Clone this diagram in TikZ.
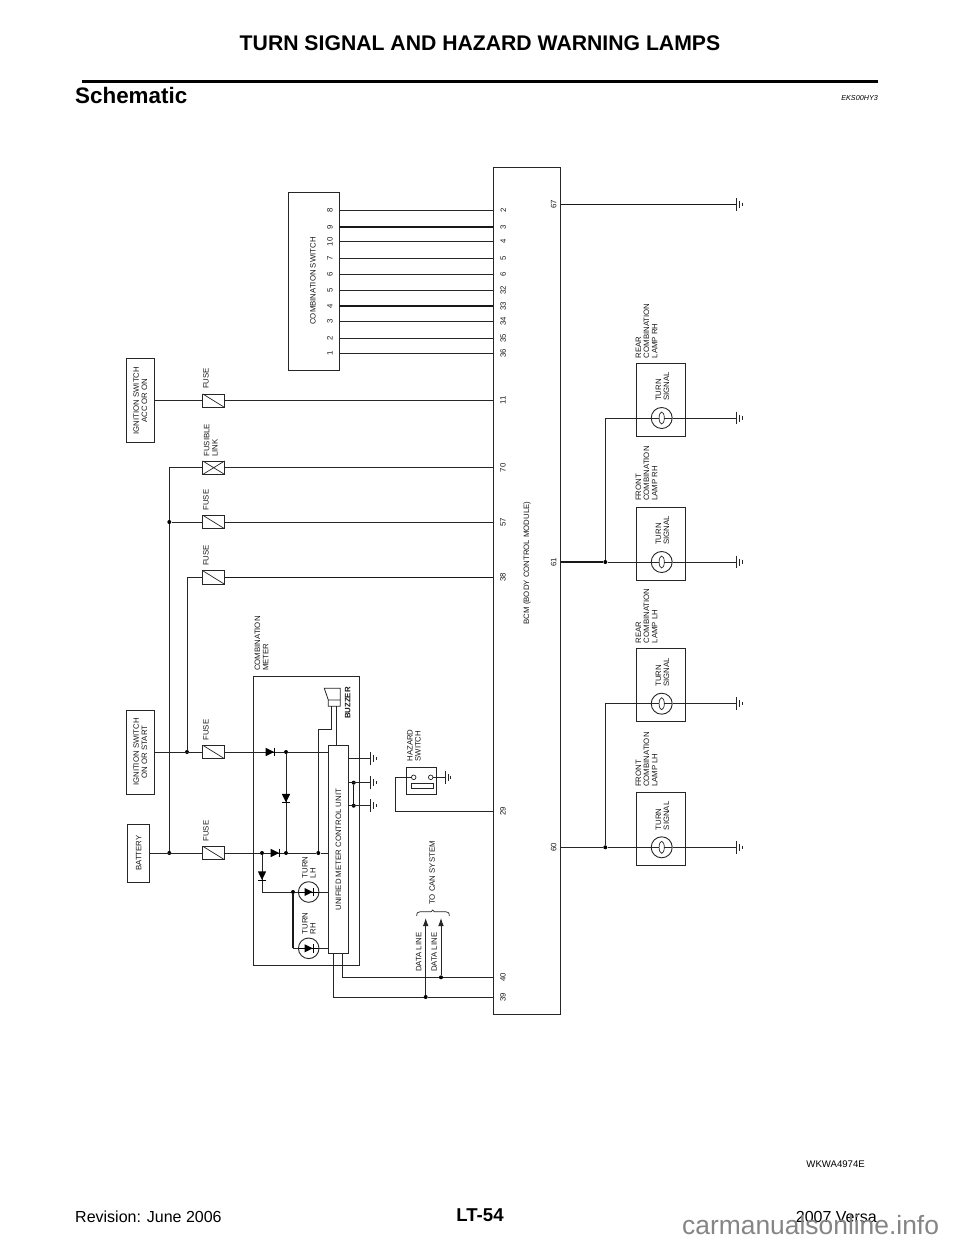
\documentclass[tikz,border=0pt]{standalone}
\usepackage{fontspec}
\setmainfont{Liberation Sans}
\usetikzlibrary{arrows.meta}
\newcommand{\lab}{\fontsize{7.8}{8.1}\selectfont}
\tikzset{
  wire/.style={line width=0.85pt,draw=black!85},
  hwire/.style={line width=1.05pt,draw=black!90},
  block/.style={draw=black!85,line width=0.9pt,inner sep=0pt,fill=none},
  juncdot/.style={circle,fill=black,inner sep=0pt,minimum size=4pt},
  fusebox/.style={draw=black!85,line width=0.8pt,inner sep=0pt,minimum width=22pt,minimum height=13.6pt,
     path picture={\draw[line width=0.7pt,black!85] (path picture bounding box.north west)--(path picture bounding box.south east);}},
  linkbox/.style={fusebox,
     path picture={\draw[line width=0.7pt,black!85] (path picture bounding box.north west)--(path picture bounding box.south east)
        (path picture bounding box.south west)--(path picture bounding box.north east);}},
  vtext/.style={rotate=90,font=\lab,align=left,inner sep=0pt,anchor=west,text=black!90},
  ctext/.style={rotate=90,font=\lab,align=center,inner sep=0pt,anchor=center,text=black!90},
  pinlabel/.style={rotate=90,font=\lab,inner sep=0pt,anchor=center,text=black!90},
  lampbulb/.style={circle,draw=black!85,line width=0.9pt,inner sep=0pt,minimum size=21pt,
     path picture={\draw[line width=0.7pt,black!85] (0,0) ellipse (2.6pt and 6pt);
        \draw[line width=0.7pt,black!85] (-10.5pt,0)--(-2.6pt,0) (2.6pt,0)--(10.5pt,0);}},
  ledbulb/.style={circle,draw=black!85,line width=0.9pt,inner sep=0pt,minimum size=20.6pt,
     path picture={\fill[black] (-4pt,-4pt)--(-4pt,4pt)--(4pt,0pt)--cycle;
        \draw[line width=0.8pt,black] (-10.5pt,0)--(10.5pt,0) (4.4pt,-4.3pt)--(4.4pt,4.3pt);}},
  contact/.style={circle,draw=black!85,line width=0.7pt,inner sep=0pt,minimum size=4.6pt},
  gnd/.pic={\draw[line width=0.8pt,black!85] (0,-6.3)--(0,6.3);
     \draw[line width=0.8pt,black!85] (3,-3.5)--(3,3.5);
     \draw[line width=0.8pt,black!85] (5.5,-1.6)--(5.5,1.6);},
  dio/.pic={\fill[black] (-4.4,-4.2)--(-4.4,4.2)--(4.2,0)--cycle;
     \draw[line width=0.8pt,black] (4.4,-4.3)--(4.4,4.3);},
}
\begin{document}
\begin{tikzpicture}[x=1pt,y=-1pt]
\useasboundingbox (0,0) rectangle (960,1242);
\fill[white] (0,0) rectangle (960,1242);

% page furniture
\node[font=\fontsize{21.2}{24}\selectfont\bfseries,inner sep=0pt] (title) at (480,43) {TURN SIGNAL AND HAZARD WARNING LAMPS};
\coordinate (ruleL) at (82,81.5);
\coordinate (ruleR) at (878,81.5);
\draw[line width=2.4pt] (ruleL)--(ruleR);
\node[font=\fontsize{22.4}{24}\selectfont\bfseries,inner sep=0pt,anchor=base west] (sch) at (75,103) {Schematic};
\node[font=\fontsize{7.2}{8}\selectfont\itshape,inner sep=0pt,anchor=base east] (eks) at (878,100) {EKS00HY3};
\node[font=\fontsize{9.6}{10}\selectfont,inner sep=0pt,anchor=base east] (wk) at (865,1167) {WKWA4974E};
\node[font=\fontsize{18.6}{20}\selectfont\bfseries,inner sep=0pt] (pg) at (480,1215) {LT-54};
\node[font=\fontsize{16}{18}\selectfont,inner sep=0pt,anchor=base west] (rev) at (75,1222.5) {Revision: June 2006};
\node[font=\fontsize{16}{18}\selectfont,inner sep=0pt,anchor=base east] (ver) at (877,1222.5) {2007 Versa};
\node[font=\fontsize{26.4}{28}\selectfont,inner sep=0pt,anchor=base west,text=black!48] (wm) at (682,1234) {carmanualsonline.info};

% main blocks
\node[block,minimum width=66.6pt,minimum height=847pt] (bcm) at (527,590.7) {};
\node[block,minimum width=50.3pt,minimum height=177.3pt] (csw) at (313.8,281.3) {};
\node[block,minimum width=28.7pt,minimum height=84pt] (acc) at (140.3,400.7) {};
\node[block,minimum width=28.7pt,minimum height=84pt] (ign) at (140.3,752) {};
\node[block,minimum width=22pt,minimum height=58pt] (bat) at (138.7,853) {};
\node[block,minimum width=105.3pt,minimum height=289pt] (meter) at (306.3,820.5) {};
\node[block,minimum width=19.6pt,minimum height=208pt] (unit) at (338.5,849.7) {};

% combination switch wires
\foreach \n/\y/\w in {a/210.3/wire,b/227/hwire,c/241.7/wire,d/258.7/wire,e/274.3/wire,f/290.3/wire,g/306/hwire,h/321.3/wire,i/338.3/wire,j/353.3/wire}{
  \coordinate (sw\n) at (339,\y);
  \draw[\w] (csw.east |- sw\n) -- (bcm.west |- sw\n);
}
\foreach \y/\l/\r in {210.3/8/2,227/9/3,241.7/10/4,258.7/7/5,274.3/6/6,290.3/5/32,306/4/33,321.3/3/34,338.3/2/35,353.3/1/36}{
  \node[pinlabel] at (330,\y) {\l};
  \node[pinlabel] at (503.3,\y) {\r};
}
\node[ctext] (cswl) at (313,281) {COMBINATION SWITCH};

% fuses
\node[fusebox] (fa) at (213.7,400.7) {};
\node[linkbox] (fb) at (213.7,467.7) {};
\node[fusebox] (fc) at (213.7,522) {};
\node[fusebox] (fd) at (213.7,577.5) {};
\node[fusebox] (fe) at (213.7,752) {};
\node[fusebox] (ff) at (213.7,853) {};
\node[vtext] at (206,389) {FUSE};
\node[vtext] at (210.8,456.7) {FUSIBLE\\LINK};
\node[vtext] at (206,510.7) {FUSE};
\node[vtext] at (206,566) {FUSE};
\node[vtext] at (206,740.7) {FUSE};
\node[vtext] at (206,841.7) {FUSE};

\node[ctext] at (140.3,400.7) {IGNITION SWITCH\\ACC OR ON};
\node[ctext] at (140.3,752) {IGNITION SWITCH\\ON OR START};
\node[ctext] at (138.7,853) {BATTERY};

% junctions of supply
\node[juncdot] (ja) at (169.3,853) {};
\node[juncdot] (jb) at (169.3,522) {};
\node[juncdot] (jc) at (187,752) {};
\coordinate (ca) at (169.3,467.7);
\coordinate (cb) at (187,577.5);

\draw[wire] (acc) -- (fa);
\draw[wire] (fa) -- (bcm.west |- fa);
\draw[wire] (ca) -- (fb);
\draw[wire] (fb) -- (bcm.west |- fb);
\draw[wire] (jb) -- (fc);
\draw[wire] (fc) -- (bcm.west |- fc);
\draw[wire] (cb) -- (fd);
\draw[hwire] (fd) -- (bcm.west |- fd);
\draw[wire] (ca) -- (jb) -- (ja);
\draw[wire] (cb) -- (jc);
\draw[wire] (ign) -- (fe);
\draw[wire] (bat) -- (ff);

% meter internals
\node[juncdot] (j1) at (286,752) {};
\node[juncdot] (j2) at (286,853) {};
\node[juncdot] (j3) at (318.3,853) {};
\node[juncdot] (j4) at (262,853) {};
\node[juncdot] (j5) at (293,892) {};
\coordinate (c6) at (262,892);
\node[ledbulb] (lh) at (308.7,892) {};
\node[ledbulb] (rh) at (308.7,948.3) {};
\coordinate (c7) at (293,948.3);

\draw[wire] (fe) -- (j1) -- (unit.west |- j1);
\draw[wire] (ff) -- (j4) -- (j2) -- (j3) -- (unit.west |- j3);
\draw[wire] (j1) -- (j2);
\draw[wire] (j4) -- (c6) -- (j5) -- (lh);
\draw[wire] (lh) -- (unit.west |- lh);
\draw[hwire] (j5) -- (c7);
\draw[wire] (c7) -- (rh);
\draw[wire] (rh) -- (unit.west |- rh);
\pic at (270,752) {dio};
\pic at (275,853) {dio};
\pic[rotate=-90] at (286,798.3) {dio};
\pic[rotate=-90] at (262,875.7) {dio};
\node[vtext] at (309,878.3) {TURN\\LH};
\node[vtext] at (309,934.3) {TURN\\RH};
\node[ctext] at (338.5,849.7) {UNIFIED METER CONTROL UNIT};
\node[vtext] at (261.5,671) {COMBINATION\\METER};

% buzzer
\coordinate (bz1) at (331,706.3);
\coordinate (bz2) at (336.7,706.3);
\draw[line width=0.8pt,black!85] (324.3,688.3)--(340.3,688.3)--(340.3,706.3)--(328.3,706.3)--(328.3,700)--cycle (328.3,700)--(340.3,700);
\coordinate (bz3) at (318.3,729);
\draw[wire] (j3) -- (bz3) -| (bz1);
\draw[wire] (bz2) -- (bz2 |- unit.north);
\node[ctext,font=\lab\bfseries] at (347.7,703) {BUZZER};

% meter grounds
\coordinate (g1) at (370.7,758.3);
\coordinate (g2) at (370.7,782.7);
\coordinate (g3) at (370.7,805.7);
\node[juncdot] (j8) at (353.7,782.7) {};
\node[juncdot] (j9) at (353.7,805.7) {};
\draw[wire] (unit.east |- g1) -- (g1);
\draw[wire] (unit.east |- g2) -- (g2);
\draw[wire] (unit.east |- g3) -- (g3);
\draw[hwire] (j8) -- (j9);
\pic at (g1) {gnd};
\pic at (g2) {gnd};
\pic at (g3) {gnd};

% data lines
\node[juncdot] (j40) at (441,977.3) {};
\node[juncdot] (j39) at (425.7,997) {};
\coordinate (a40) at (441,918);
\coordinate (a39) at (425.7,918);
\coordinate (u40) at (342.3,953.7);
\coordinate (u39) at (333.7,953.7);
\draw[wire] (u40) -- (u40 |- j40) -- (j40) -- (bcm.west |- j40);
\draw[wire] (u39) -- (u39 |- j39) -- (j39) -- (bcm.west |- j39);
\draw[wire,-{Latex[length=8pt,width=5.6pt]}] (j40) -- (a40);
\draw[wire,-{Latex[length=8pt,width=5.6pt]}] (j39) -- (a39);
\draw[line width=0.7pt,black!85] (416.7,916) .. controls (416.7,912.5) and (418,911.8) .. (420,911.8) -- (431,911.8) .. controls (432,911.8) and (432.5,911) .. (432.7,910) .. controls (432.9,911) and (433.4,911.8) .. (434.4,911.8) -- (446,911.8) .. controls (448,911.8) and (449.3,912.5) .. (449.3,916);
\node[vtext] at (432.3,905) {TO CAN SYSTEM};
\node[vtext] at (418.7,972) {DATA LINE};
\node[vtext] at (434.3,972) {DATA LINE};

% hazard switch
\node[block,minimum width=30.4pt,minimum height=27.4pt] (hz) at (421.5,781) {};
\node[contact] (hc1) at (413.7,777.3) {};
\node[contact] (hc2) at (430.7,777.3) {};
\draw[line width=0.7pt,black!85] (411,783.3) rectangle (433.7,788);
\coordinate (hg) at (445.3,777.3);
\coordinate (hw1) at (395.3,777.3);
\coordinate (hw2) at (395.3,811);
\draw[wire] (hc2) -- (hg);
\pic at (hg) {gnd};
\draw[wire] (hc1) -- (hw1) -- (hw2) -- (bcm.west |- hw2);
\node[vtext] at (414,761.7) {HAZARD\\SWITCH};
\node[pinlabel] at (503,811) {29};

% bcm labels
\foreach \y/\t in {400.7/11,467.7/70,522/57,577.5/38,977.3/40,997/39}{
  \node[pinlabel] at (503,\y) {\t};
}
\node[ctext] at (527,563) {BCM (BODY CONTROL MODULE)};
\node[pinlabel] at (553.7,204.3) {67};
\node[pinlabel] at (553.7,562) {61};
\node[pinlabel] at (553.7,847.3) {60};
\coordinate (g67) at (736.7,204.3);
\draw[hwire] (bcm.east |- g67) -- (g67);
\pic at (g67) {gnd};

% lamps
\foreach \n/\top/\bot/\wy/\cap/\l in {
  rr/363/436/418/358.3/REAR\\COMBINATION\\LAMP RH,
  fr/507/580/562/501/FRONT\\COMBINATION\\LAMP RH,
  rl/648.7/721.7/703.7/643.3/REAR\\COMBINATION\\LAMP LH,
  fl/792.3/865.3/847.3/787/FRONT\\COMBINATION\\LAMP  LH}{
  \node[block,minimum width=49.7pt,minimum height=73pt] (box\n) at (660.8,{(\top+\bot)/2}) {};
  \node[lampbulb] (lamp\n) at (661.7,\wy) {};
  \coordinate (gnd\n) at (736.7,\wy);
  \coordinate (tap\n) at (605.3,\wy);
  \draw[wire] (lamp\n) -- (gnd\n);
  \pic at (gnd\n) {gnd};
  \node[vtext] at (646.5,\cap) {\l};
  \node[vtext] at (662.5,{\wy-17}) {TURN\\SIGNAL};
}
\node[juncdot] (j61) at (605.3,562) {};
\node[juncdot] (j60) at (605.3,847.3) {};
\draw[hwire] (bcm.east |- j61) -- (j61);
\draw[wire] (j61) -- (lampfr);
\draw[wire] (j61) -- (taprr) -- (lamprr);
\draw[wire] (bcm.east |- j60) -- (j60);
\draw[wire] (j60) -- (lampfl);
\draw[wire] (j60) -- (taprl) -- (lamprl);
\end{tikzpicture}
\end{document}
